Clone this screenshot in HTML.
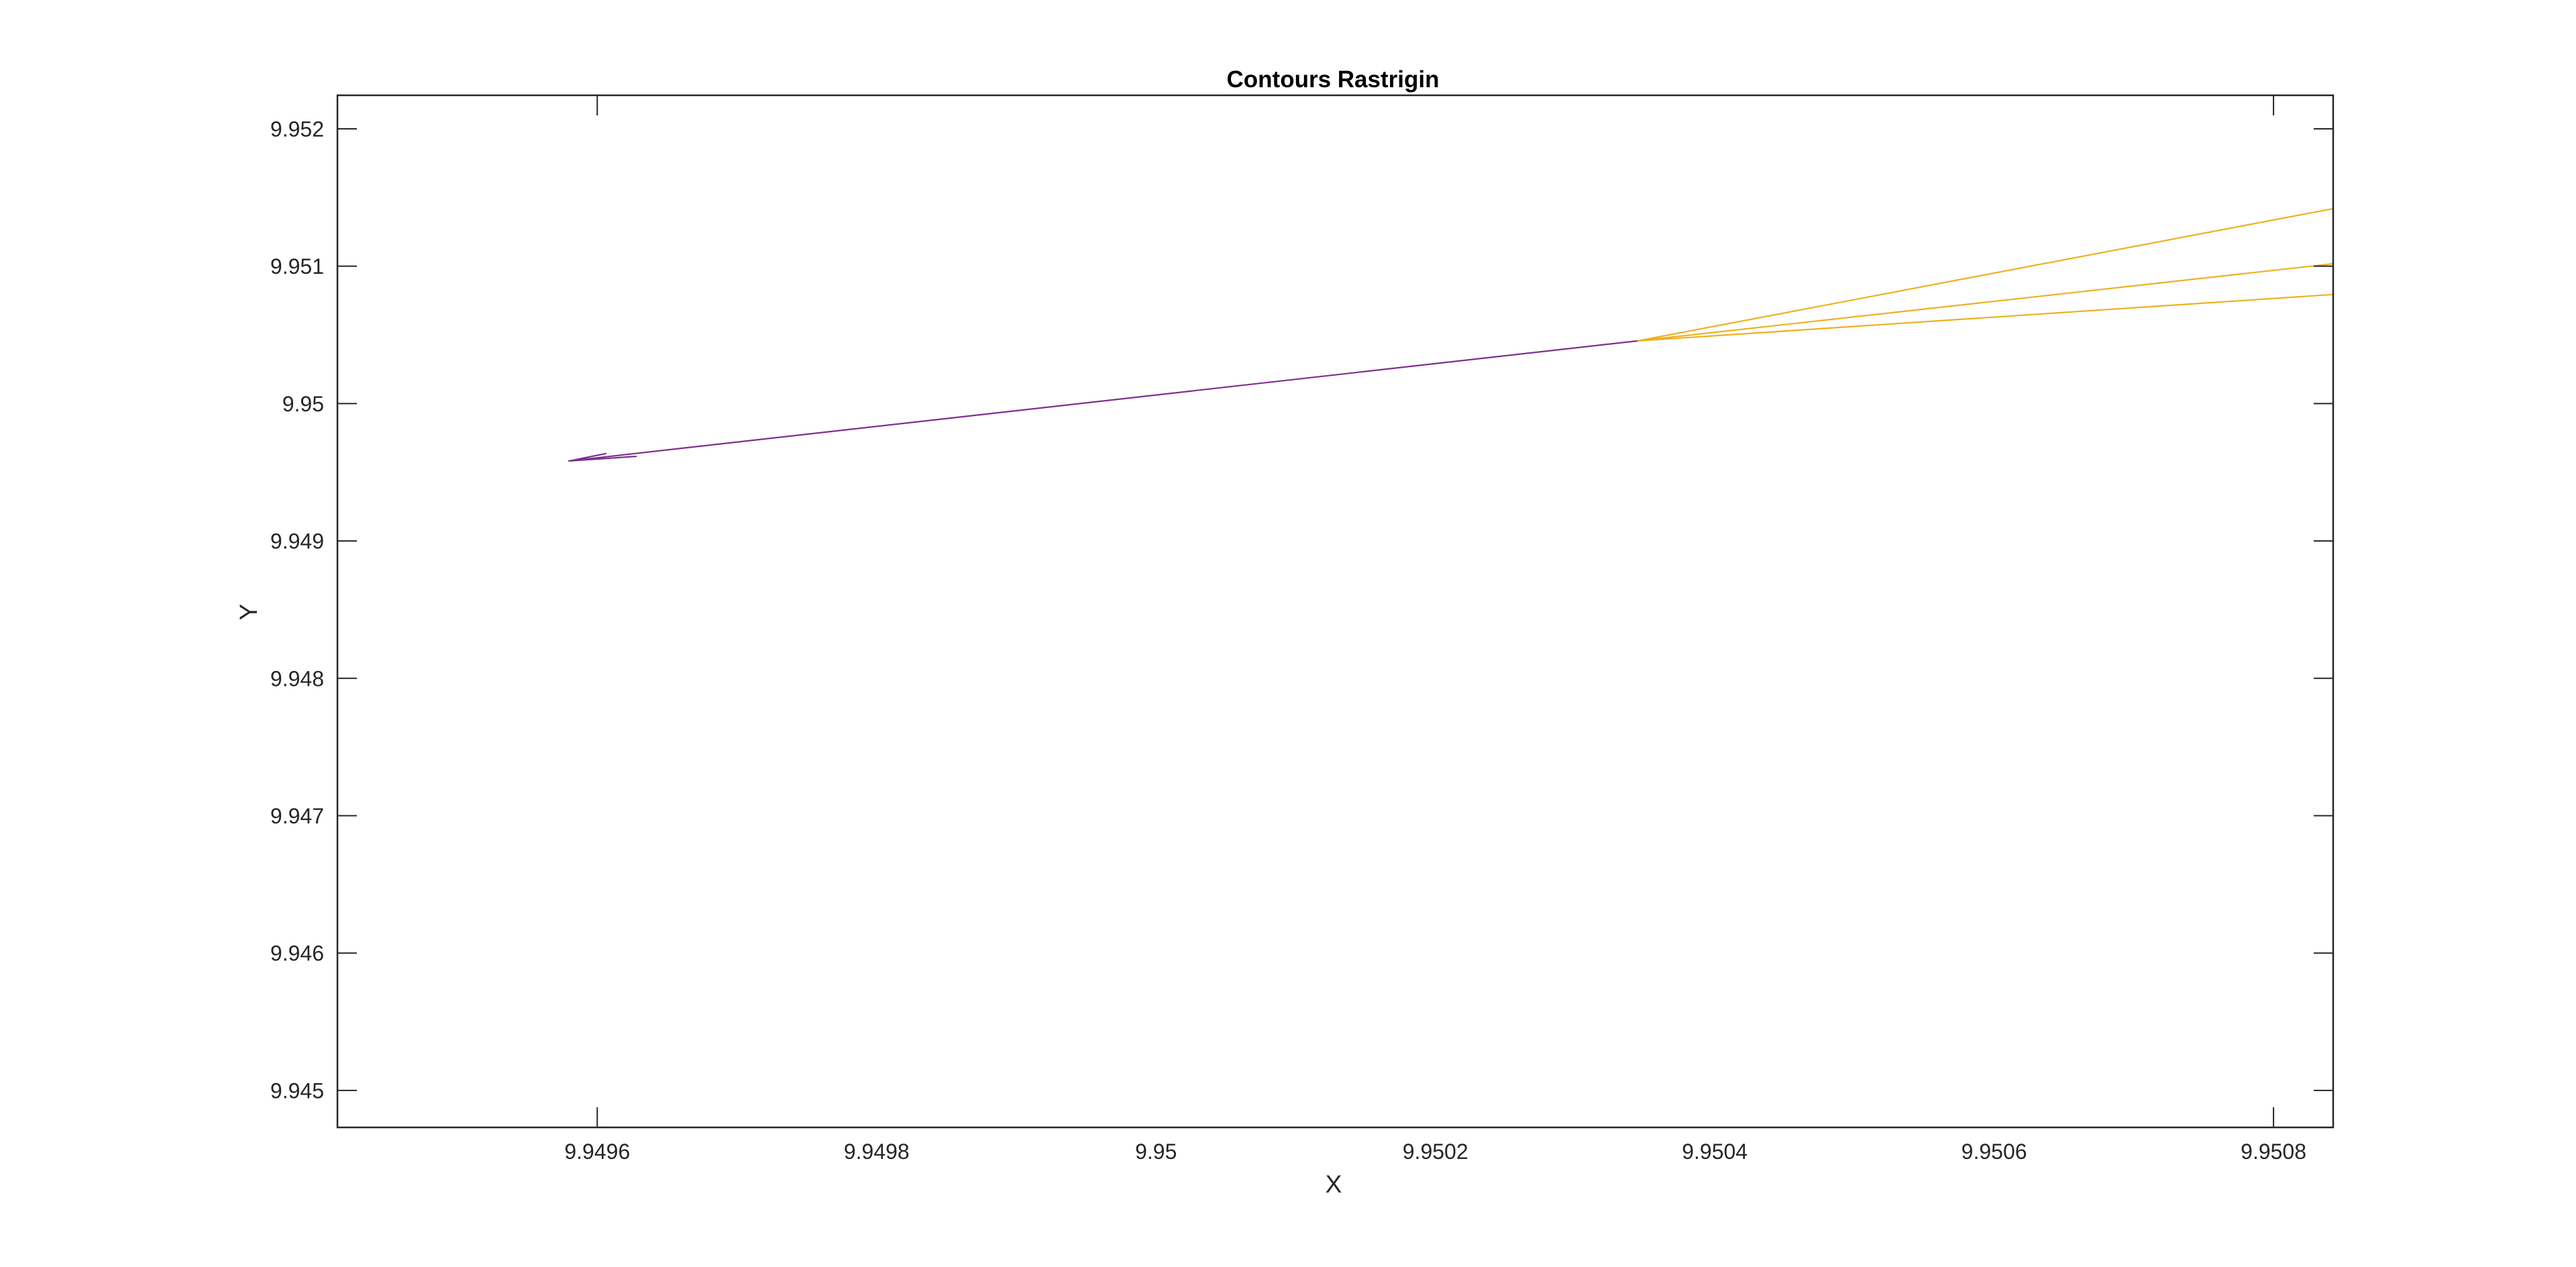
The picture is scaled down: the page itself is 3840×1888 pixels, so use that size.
<!DOCTYPE html>
<html><head><meta charset="utf-8"><style>
html,body{margin:0;padding:0;background:#fff;}
svg{display:block;font-family:"Liberation Sans",Arial,sans-serif;}
</style></head><body>
<svg id="chart" width="3840" height="1888" viewBox="0 0 3840 1888" xmlns="http://www.w3.org/2000/svg">
<rect x="0" y="0" width="3840" height="1888" fill="#fff"/>
<g id="plot"></g>
<g id="axes"></g>
<text x="1987" y="130" text-anchor="middle" font-size="35" font-weight="bold" fill="#000">Contours Rastrigin</text>
<text x="1988" y="1777" text-anchor="middle" font-size="37" fill="#262626">X</text>
<text transform="translate(383,912) rotate(-90)" text-anchor="middle" font-size="37" fill="#262626">Y</text>
</svg>
<script>
const xTicks = [9.9496, 9.9498, 9.95, 9.9502, 9.9504, 9.9506, 9.9508];
const xTickLabels = ["9.9496", "9.9498", "9.95", "9.9502", "9.9504", "9.9506", "9.9508"];
const xTickMarks = [9.9496, 9.9508];
const yTicks = [9.945, 9.946, 9.947, 9.948, 9.949, 9.95, 9.951, 9.952];
const yTickLabels = ["9.945", "9.946", "9.947", "9.948", "9.949", "9.95", "9.951", "9.952"];
const purpleX = [9.9496282, 9.9495797, 9.9496061, 9.9495797, 9.9503446];
const purpleY = [9.949616, 9.949582, 9.949636, 9.949582, 9.950456];
const orange1X = [9.9503446, 9.9508427];
const orange1Y = [9.950456, 9.951419];
const orange2X = [9.9503446, 9.9508427];
const orange2Y = [9.950456, 9.951018];
const orange3X = [9.9503446, 9.9508427];
const orange3Y = [9.950456, 9.950794];

const L = 503, R = 3478, T = 142, B = 1680;
const xMin = 9.949414, xMax = 9.9508427, yMin = 9.944731, yMax = 9.952244;
function sx(v){ return L + (v - xMin) / (xMax - xMin) * (R - L); }
function sy(v){ return B - (v - yMin) / (yMax - yMin) * (B - T); }
const NS = "http://www.w3.org/2000/svg";
const plot = document.getElementById('plot');
const axes = document.getElementById('axes');
function mk(tag, attrs, parent){ const e = document.createElementNS(NS, tag); for (const k in attrs) e.setAttribute(k, attrs[k]); parent.appendChild(e); return e; }

function series(xs, ys, color, name){
  const d = xs.map((x,i)=>(i?'L':'M')+sx(x).toFixed(1)+' '+sy(ys[i]).toFixed(1)).join(' ');
  const p = mk('path', {d:d, fill:'none', stroke:color, 'stroke-width':2.2, 'stroke-linejoin':'round'}, plot);
  
  
}
series(purpleX, purpleY, '#7E2F8E', 'contour-line-purple');
series(orange1X, orange1Y, '#EDB120', 'contour-line-orange-1');
series(orange2X, orange2Y, '#EDB120', 'contour-line-orange-2');
series(orange3X, orange3Y, '#EDB120', 'contour-line-orange-3');

const box = mk('rect', {x:L, y:T, width:R-L, height:B-T, fill:'none', stroke:'#262626', 'stroke-width':2.5}, axes);



xTickMarks.forEach(v=>{
  const x = sx(v);
  const t1 = mk('line', {x1:x, x2:x, y1:B, y2:B-30, stroke:'#262626', 'stroke-width':2}, axes);
  
  
  const t2 = mk('line', {x1:x, x2:x, y1:T, y2:T+30, stroke:'#262626', 'stroke-width':2}, axes);
  
  
});
xTicks.forEach((v,i)=>{
  const x = sx(v);
  const lb = mk('text', {x:x, y:1727, 'text-anchor':'middle', 'font-size':32, fill:'#262626'}, axes);
  lb.textContent = xTickLabels[i];
  
  
});
yTicks.forEach((v,i)=>{
  const y = sy(v);
  const t1 = mk('line', {x1:L, x2:L+29, y1:y, y2:y, stroke:'#262626', 'stroke-width':2}, axes);
  
  
  const t2 = mk('line', {x1:R, x2:R-29, y1:y, y2:y, stroke:'#262626', 'stroke-width':2}, axes);
  
  
  const lb = mk('text', {x:483, y:y+11.5, 'text-anchor':'end', 'font-size':32, fill:'#262626'}, axes);
  lb.textContent = yTickLabels[i];
  
  
});
</script>
</body></html>
